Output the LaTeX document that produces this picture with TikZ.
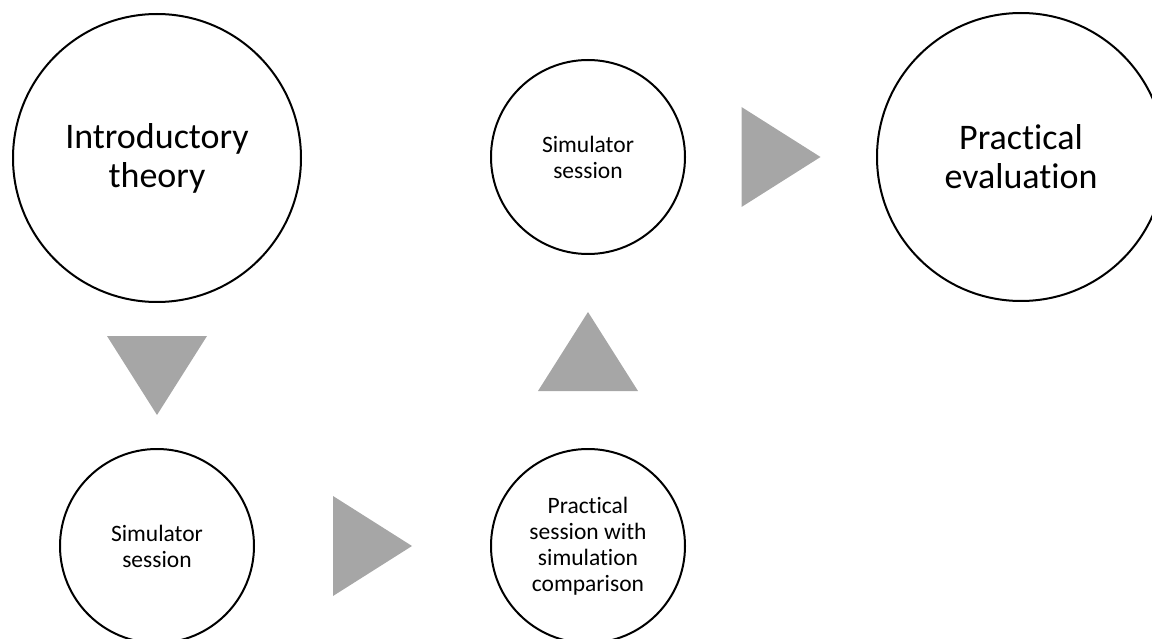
\documentclass[tikz,border=0pt]{standalone}
\usepackage{fontspec}
\setmainfont{Carlito}[Ligatures=NoCommon]
\usetikzlibrary{positioning,calc}

\definecolor{pointergray}{HTML}{A6A6A6}

\tikzset{
    bigstage/.style={draw, circle, line width=2pt, minimum size=288pt, inner sep=0pt, align=center, font=\fontsize{36}{39}\selectfont},
    smallstage/.style={draw, circle, line width=2pt, minimum size=194pt, inner sep=0pt, align=center, font=\fontsize{23.5}{26}\selectfont},
    pointer/.style={fill=pointergray}
}

\begin{document}
\begin{tikzpicture}[x=1pt, y=1pt]
    \useasboundingbox (0,0) rectangle (1152,-639);

    \node (intro) [bigstage] at (157,-158) {Introductory\\theory};
    \node (simfirst) [smallstage, below of=intro, node distance=388pt] {Simulator\\session};
    \node (practice) [smallstage, right of=simfirst, node distance=431pt] {Practical\\session with\\simulation\\comparison};
    \node (simsecond) [smallstage, above of=practice, node distance=389pt] {Simulator\\session};
    \node (evaluation) [bigstage, right of=simsecond, node distance=433pt] {Practical\\evaluation};

    % triangles sit halfway in the gap between two stages
    \coordinate (p1) at ($(intro.south)!0.5!(simfirst.north)$);
    \coordinate (p2) at ($(simfirst.east)!0.5!(practice.west)$);
    \coordinate (p3) at ($(practice.north)!0.5!(simsecond.south)$);
    \coordinate (p4) at ($(simsecond.east)!0.5!(evaluation.west)$);

    \fill[pointer] (p1) ++(-50,39.5) -- ++(100,0) -- ++(-50,-79) -- cycle;
    \fill[pointer] (p2) ++(-39.5,50) -- ++(79,-50) -- ++(-79,-50) -- cycle;
    \fill[pointer] (p3) ++(-50,-39.5) -- ++(100,0) -- ++(-50,79) -- cycle;
    \fill[pointer] (p4) ++(-39.5,50) -- ++(79,-50) -- ++(-79,-50) -- cycle;
\end{tikzpicture}
\end{document}
